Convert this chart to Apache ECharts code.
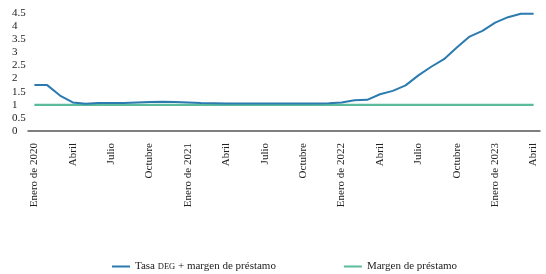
<!DOCTYPE html>
<html>
<head>
<meta charset="utf-8">
<script src="https://cdn.jsdelivr.net/npm/echarts@6/dist/echarts.min.js"></script>
<style>
html,body{margin:0;padding:0;background:#fff;}
#chart{width:546px;height:274px;}
</style>
</head>
<body>
<div id="chart"></div>
<script>
const months = [
  "Enero de 2020","Febrero","Marzo","Abril","Mayo","Junio","Julio","Agosto","Septiembre","Octubre","Noviembre","Diciembre",
  "Enero de 2021","Febrero","Marzo","Abril","Mayo","Junio","Julio","Agosto","Septiembre","Octubre","Noviembre","Diciembre",
  "Enero de 2022","Febrero","Marzo","Abril","Mayo","Junio","Julio","Agosto","Septiembre","Octubre","Noviembre","Diciembre",
  "Enero de 2023","Febrero","Marzo","Abril"
];
const tasaDegMasMargen = [
  1.75,1.75,1.35,1.09,1.04,1.07,1.07,1.07,1.09,1.11,1.12,1.11,
  1.09,1.07,1.06,1.05,1.05,1.05,1.05,1.05,1.05,1.05,1.05,1.06,
  1.09,1.17,1.19,1.40,1.53,1.74,2.12,2.45,2.74,3.18,3.60,3.82,
  4.13,4.34,4.47,4.47
];
const margenPrestamo = [
  1,1,1,1,1,1,1,1,1,1,1,1,
  1,1,1,1,1,1,1,1,1,1,1,1,
  1,1,1,1,1,1,1,1,1,1,1,1,
  1,1,1,1
];
const seriesNames = ["Tasa DEG + margen de préstamo", "Margen de préstamo"];

const FONT = "Liberation Serif";
const chart = echarts.init(document.getElementById('chart'), null, {renderer:'canvas'});
chart.setOption({
  animation: false,
  backgroundColor: '#ffffff',
  grid: {left: 28, right: 6, top: 13, bottom: 143, containLabel: false},
  xAxis: {
    type: 'category',
    data: months,
    boundaryGap: true,
    axisLine: {show: true, lineStyle: {color: '#555555', width: 1.5}},
    axisTick: {show: false},
    axisLabel: {
      interval: 2,
      rotate: 90,
      margin: 12,
      fontFamily: FONT,
      fontSize: 11,
      color: '#222222'
    },
    splitLine: {show: false}
  },
  yAxis: {
    type: 'value',
    min: 0,
    max: 4.5,
    interval: 0.5,
    axisLine: {show: false},
    axisTick: {show: false},
    splitLine: {show: false},
    axisLabel: {
      align: 'left',
      margin: 16,
      fontFamily: FONT,
      fontSize: 11,
      color: '#222222'
    }
  },
  legend: {
    left: 107,
    top: 256,
    itemGap: 68,
    itemWidth: 18,
    itemHeight: 2,
    icon: 'rect',
    data: seriesNames,
    formatter: function (name) {
      if (name === seriesNames[0]) return 'Tasa {sc|DEG} + margen de préstamo';
      return name;
    },
    textStyle: {
      fontFamily: FONT,
      fontSize: 11,
      color: '#222222',
      rich: {
        sc: {fontFamily: FONT, fontSize: 8.5, color: '#222222'}
      }
    }
  },
  series: [
    {
      name: seriesNames[0],
      type: 'line',
      data: tasaDegMasMargen,
      showSymbol: false,
      symbol: 'none',
      lineStyle: {color: '#2b7bb0', width: 2},
      itemStyle: {color: '#2b7bb0'},
      z: 3
    },
    {
      name: seriesNames[1],
      type: 'line',
      data: margenPrestamo,
      showSymbol: false,
      symbol: 'none',
      lineStyle: {color: '#5cbb9b', width: 2.2},
      itemStyle: {color: '#5cbb9b'},
      z: 2
    }
  ]
});
</script>
</body>
</html>
